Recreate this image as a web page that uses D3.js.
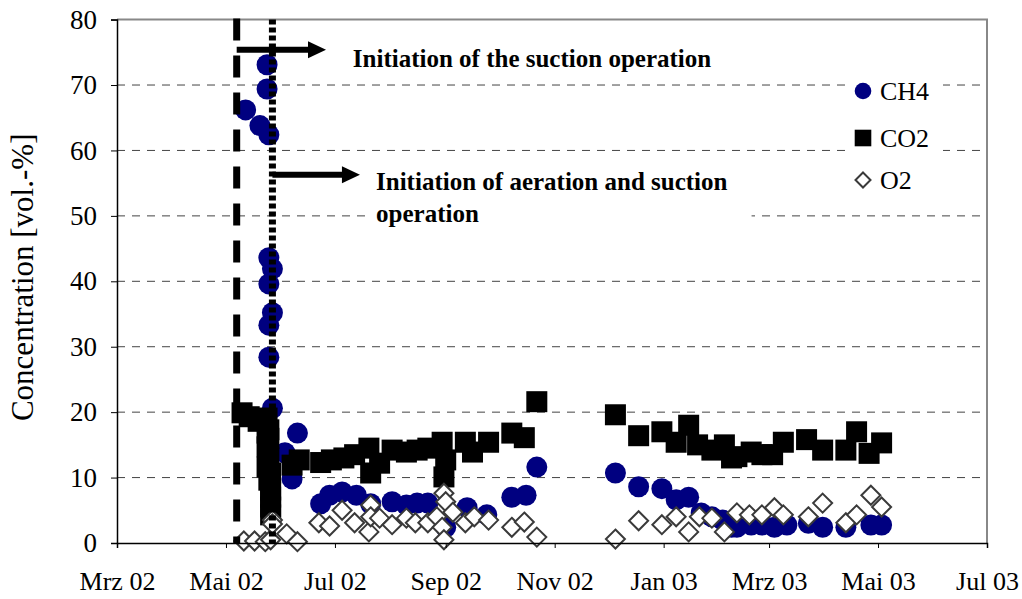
<!DOCTYPE html>
<html><head><meta charset="utf-8">
<script src="https://cdn.jsdelivr.net/npm/d3@7"></script>
<style>body{margin:0;background:#fff}svg{display:block}</style>
</head><body><svg id="c" width="1022" height="599"></svg>
<script>
// ---------- data ----------
const xTickDates = ["2002-03-01","2002-05-01","2002-07-01","2002-09-01","2002-11-01","2003-01-01","2003-03-01","2003-05-01","2003-07-01"];
const xTickLabels = ["Mrz 02","Mai 02","Jul 02","Sep 02","Nov 02","Jan 03","Mrz 03","Mai 03","Jul 03"];
const yTicks = [0,10,20,30,40,50,60,70,80];
const seriesNames = ["CH4","CO2","O2"];

const ch4 = [
 ["2002-05-12",66.2],["2002-05-20",63.8],["2002-05-24",73.1],["2002-05-24",69.4],["2002-05-25",62.4],
 ["2002-05-25",43.6],["2002-05-27",41.9],["2002-05-25",39.6],["2002-05-27",35.2],["2002-05-25",33.3],
 ["2002-05-25",28.4],["2002-05-27",20.6],["2002-06-03",13.8],["2002-06-10",16.8],["2002-06-07",9.8],
 ["2002-06-23",6.0],["2002-06-28",7.3],["2002-07-05",7.8],["2002-07-13",7.3],["2002-07-21",6.0],
 ["2002-08-02",6.3],["2002-08-10",5.8],["2002-08-16",6.1],["2002-08-22",6.1],["2002-09-01",2.4],
 ["2002-09-13",5.4],["2002-09-24",4.3],["2002-10-08",7.0],["2002-10-16",7.3],["2002-10-22",11.6],
 ["2002-12-05",10.7],["2002-12-18",8.6],["2002-12-31",8.3],["2003-01-08",6.6],["2003-01-15",7.0],
 ["2003-01-22",4.6],["2003-01-28",4.0],["2003-02-03",3.5],["2003-02-08",2.4],["2003-02-05",2.9],
 ["2003-02-11",2.4],["2003-02-19",2.75],["2003-02-25",2.75],["2003-03-04",2.4],["2003-03-11",2.75],
 ["2003-03-23",3.0],["2003-03-31",2.4],["2003-04-13",2.4],["2003-04-27",2.75],["2003-05-03",2.75]
];
const co2 = [
 ["2002-05-10",19.9],["2002-05-14",19.3],["2002-05-19",18.6],["2002-05-24",19.1],["2002-05-24",16.8],
 ["2002-05-25",17.3],["2002-05-25",16.0],["2002-05-24",14.7],["2002-05-25",13.0],["2002-05-24",11.6],
 ["2002-05-26",10.7],["2002-05-25",9.6],["2002-05-26",8.1],["2002-05-26",7.0],["2002-05-26",5.5],
 ["2002-05-26",4.3],["2002-06-07",11.9],["2002-06-11",12.7],["2002-06-23",12.3],["2002-06-29",12.7],
 ["2002-07-06",13.0],["2002-07-12",13.5],["2002-07-20",14.5],["2002-07-21",10.7],["2002-07-26",12.2],
 ["2002-08-02",14.2],["2002-08-10",13.9],["2002-08-16",14.2],["2002-08-22",14.5],["2002-08-30",15.4],
 ["2002-08-31",10.1],["2002-09-01",12.7],["2002-09-12",15.4],["2002-09-16",13.9],["2002-09-25",15.4],
 ["2002-10-08",16.8],["2002-10-15",16.1],["2002-10-22",21.6],
 ["2002-12-05",19.6],["2002-12-18",16.4],["2002-12-31",17.0],["2003-01-08",15.4],["2003-01-15",18.0],
 ["2003-01-20",15.0],["2003-01-28",14.2],["2003-02-04",15.0],["2003-02-08",13.0],["2003-02-11",13.2],
 ["2003-02-19",13.9],["2003-02-25",13.5],["2003-03-03",13.5],["2003-03-09",15.4],["2003-03-22",15.8],
 ["2003-03-31",14.2],["2003-04-13",14.2],["2003-04-19",17.0],["2003-04-26",13.7],["2003-05-03",15.3]
];
const o2 = [
 ["2002-05-11",0.3],["2002-05-17",0.3],["2002-05-23",0.2],["2002-05-26",0.5],["2002-05-27",3.5],
 ["2002-05-27",2.9],["2002-06-04",1.4],["2002-06-10",0.2],["2002-06-22",3.1],["2002-06-28",2.6],
 ["2002-07-05",5.0],["2002-07-12",3.1],["2002-07-20",1.7],["2002-07-21",5.8],["2002-07-21",4.0],
 ["2002-07-26",3.8],["2002-08-02",2.8],["2002-08-10",3.8],["2002-08-15",3.1],["2002-08-22",3.1],
 ["2002-08-27",4.0],["2002-08-31",7.6],["2002-09-01",6.3],["2002-08-30",2.4],["2002-08-31",0.5],
 ["2002-09-05",4.7],["2002-09-12",3.1],["2002-09-17",4.0],["2002-09-25",3.5],["2002-10-08",2.4],
 ["2002-10-15",3.2],["2002-10-22",0.9],["2002-12-05",0.6],["2002-12-18",3.4],["2002-12-31",2.8],
 ["2003-01-08",4.0],["2003-01-15",1.7],["2003-01-21",4.0],["2003-01-28",3.8],["2003-02-04",1.7],
 ["2003-02-11",4.6],["2003-02-18",4.3],["2003-02-25",4.3],["2003-03-04",5.4],["2003-03-09",4.3],
 ["2003-03-23",4.0],["2003-03-31",6.1],["2003-04-13",3.1],["2003-04-19",4.3],["2003-04-27",7.3],
 ["2003-05-03",5.5]
];
const eventDates = ["2002-05-07","2002-05-27"];   // suction start, aeration+suction start
const arrowEnds = ["2002-06-26","2002-07-15"];
const arrowLevels = [75.4, 56.3];
const noteTexts = [["Initiation of the suction operation"],["Initiation of aeration and suction","operation"]];
const noteAnchors = [["2002-07-11",72.8],["2002-07-24",54.0]];

// ---------- chart ----------
const parse = d3.utcParse("%Y-%m-%d");
const svg = d3.select("#c");
const x = d3.scaleUtc().domain([parse("2002-03-01"), parse("2003-07-01")]).range([117, 987]);
const y = d3.scaleLinear().domain([0, 80]).range([543, 19.6]);
const X0 = x.range()[0], X1 = x.range()[1];
const serif = "'Liberation Serif','Times New Roman',serif";

// gridlines
svg.append("g").selectAll("line").data(yTicks.filter(v => v > 0 && v < 80)).join("line")
  .attr("x1", X0).attr("x2", X1).attr("y1", d => y(d)).attr("y2", d => y(d))
  .attr("stroke", "#444").attr("stroke-width", 1).attr("stroke-dasharray", "8,7");
// top & right border
svg.append("path").attr("d", `M${X0},${y(80)}H${X1}V${y(0)}`).attr("fill", "none")
  .attr("stroke", "#888").attr("stroke-width", 2);

// CH4
svg.append("g").selectAll("circle").data(ch4).join("circle")
  .attr("cx", d => x(parse(d[0]))).attr("cy", d => y(d[1])).attr("r", 10.5).attr("fill", "#000080");
// CO2
svg.append("g").selectAll("rect").data(co2).join("rect")
  .attr("x", d => x(parse(d[0])) - 10.5).attr("y", d => y(d[1]) - 10.5)
  .attr("width", 21).attr("height", 21).attr("fill", "#000");
// O2
const diamond = s => `M0,${-s}L${s},0L0,${s}L${-s},0Z`;
svg.append("g").selectAll("path").data(o2).join("path")
  .attr("transform", d => `translate(${x(parse(d[0]))},${y(d[1])})`)
  .attr("d", diamond(9.5)).attr("fill", "#fff").attr("stroke", "#3a3a3a").attr("stroke-width", 2);

// event lines
svg.append("line").attr("x1", x(parse(eventDates[0]))).attr("x2", x(parse(eventDates[0])))
  .attr("y1", y(80) - 1).attr("y2", y(0)).attr("stroke", "#000").attr("stroke-width", 7)
  .attr("stroke-dasharray", "22,15");
svg.append("line").attr("x1", x(parse(eventDates[1]))).attr("x2", x(parse(eventDates[1])))
  .attr("y1", y(80)).attr("y2", y(0)).attr("stroke", "#000").attr("stroke-width", 7)
  .attr("stroke-dasharray", "5,3");

// arrows
eventDates.forEach((ed, i) => {
  const xs = x(parse(ed)) , xe = x(parse(arrowEnds[i])), yy = y(arrowLevels[i]);
  svg.append("line").attr("x1", xs).attr("x2", xe - 15).attr("y1", yy).attr("y2", yy)
    .attr("stroke", "#000").attr("stroke-width", 6);
  svg.append("path").attr("d", `M${xe},${yy}L${xe - 18},${yy - 8.5}L${xe - 18},${yy + 8.5}Z`).attr("fill", "#000");
});

// notes
noteTexts.forEach((lines, i) => {
  const g = svg.append("g");
  const ax = x(parse(noteAnchors[i][0])), ay = y(noteAnchors[i][1]);
  const bg = g.append("rect").attr("fill", "#fff");
  const t = g.append("text").attr("font-family", serif).attr("font-weight", "bold")
    .attr("font-size", 25).attr("fill", "#000");
  lines.forEach((s, j) => t.append("tspan").attr("x", ax).attr("y", ay + j * 32).text(s));
  const b = t.node().getBBox();
  bg.attr("x", b.x - 6).attr("y", b.y - 8).attr("width", b.width + 30).attr("height", b.height + 12);
});

// legend
const lg = svg.append("g");
lg.append("rect").attr("x", 845).attr("y", 70).attr("width", 98).attr("height", 130).attr("fill", "#fff");
const lx = 863, ly = [91, 138, 180];
lg.append("circle").attr("cx", lx).attr("cy", ly[0]).attr("r", 8.3).attr("fill", "#000080");
lg.append("rect").attr("x", lx - 8.3).attr("y", ly[1] - 8.3).attr("width", 16.6).attr("height", 16.6).attr("fill", "#000");
lg.append("path").attr("transform", `translate(${lx},${ly[2]})`).attr("d", diamond(7.5))
  .attr("fill", "#fff").attr("stroke", "#3a3a3a").attr("stroke-width", 2);
lg.selectAll("text").data(seriesNames).join("text")
  .attr("x", 880).attr("y", (d, i) => ly[i] + 9).text(d => d)
  .attr("font-family", serif).attr("font-size", 26).attr("fill", "#000");

// axes
const ya = svg.append("g").attr("transform", `translate(${X0},0)`)
  .call(d3.axisLeft(y).tickValues(yTicks).tickSize(6).tickPadding(14).tickFormat(d3.format("d")));
ya.select(".domain").attr("stroke", "#000").attr("stroke-width", 1.5);
ya.selectAll("text").attr("font-family", serif).attr("font-size", 27).attr("fill", "#000");

const xa = svg.append("g").attr("transform", `translate(0,${y(0)})`)
  .call(d3.axisBottom(x).tickValues(xTickDates.map(parse)).tickSize(5)
    .tickFormat((d, i) => xTickLabels[i]));
xa.select(".domain").attr("stroke", "#000").attr("stroke-width", 1.5);
xa.selectAll("text").attr("font-family", serif).attr("font-size", 26).attr("fill", "#000")
  .attr("y", 47).attr("dy", 0);

svg.append("text").attr("transform", `translate(33,${(y(0) + y(80)) / 2 - 4}) rotate(-90)`)
  .attr("text-anchor", "middle").attr("font-family", serif).attr("font-size", 31)
  .attr("fill", "#000").text("Concentration [vol.-%]");
</script></body></html>
